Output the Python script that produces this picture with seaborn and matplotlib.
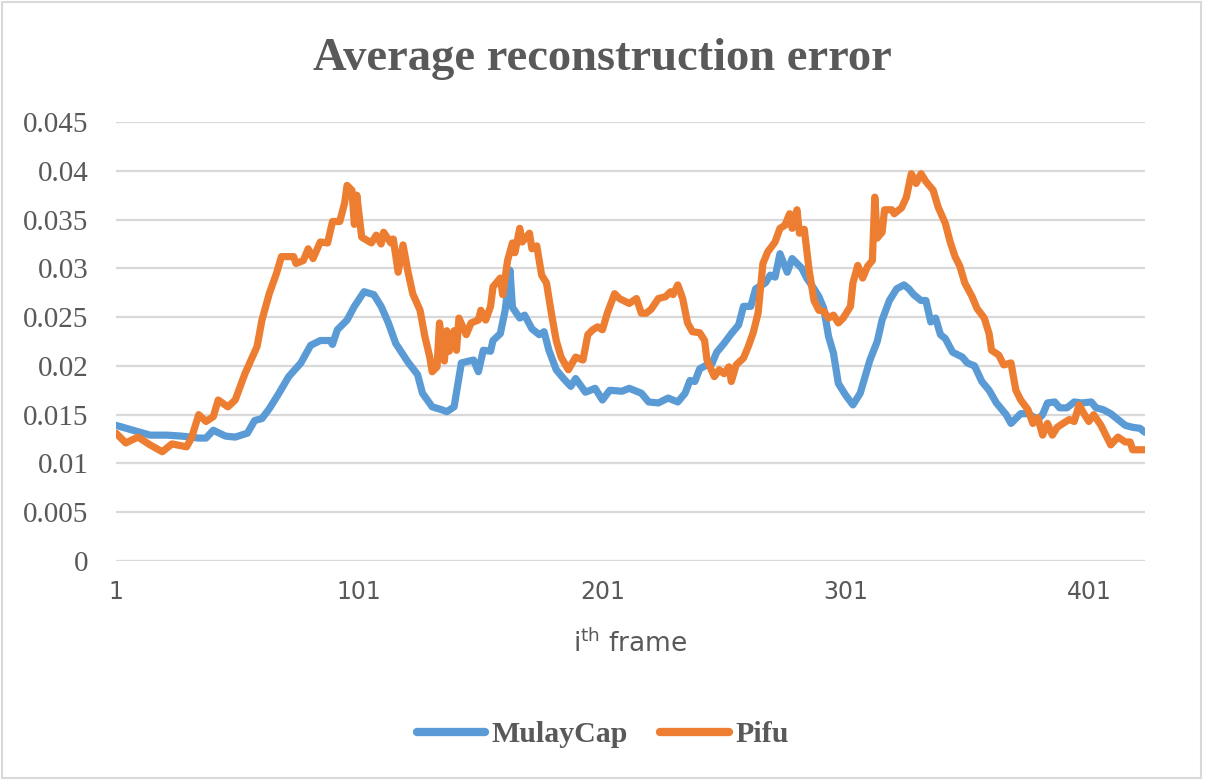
import numpy as np
import pandas as pd
import matplotlib
matplotlib.use('Agg')
import matplotlib.pyplot as plt
import seaborn as sns
from matplotlib.lines import Line2D
from matplotlib.patches import Rectangle

# values (frame index, average reconstruction error)
mulaycap_frames = [1, 8, 15, 22, 28, 35, 38, 41, 46, 50, 55, 58, 61, 64, 68, 72, 77, 81, 85, 89,
                   90, 92, 96, 99, 103, 107, 110, 113, 116, 121, 125, 127, 131, 135, 137, 140, 143,
                   148, 150, 152, 155, 156, 159, 161, 163, 164, 167, 169, 172, 175, 177, 179, 182,
                   185, 188, 190, 194, 198, 201, 204, 209, 212, 217, 220, 224, 228, 232, 235, 237,
                   239, 241, 244, 246, 248, 251, 254, 257, 259, 262, 264, 268, 270, 272, 274, 277,
                   279, 281, 283, 285, 288, 290, 292, 294, 296, 298, 301, 304, 307, 309, 311, 314,
                   316, 319, 322, 325, 327, 329, 332, 334, 336, 338, 340, 342, 345, 349, 351, 354,
                   357, 360, 363, 367, 369, 373, 376, 380, 382, 384, 387, 389, 392, 395, 398, 402,
                   404, 407, 410, 413, 416, 419, 422, 424]
mulaycap_err = [0.0139, 0.0134, 0.0129, 0.0129, 0.0128, 0.0126, 0.0126, 0.0134, 0.0128, 0.0127,
                0.0131, 0.0144, 0.0146, 0.0156, 0.0172, 0.0189, 0.0203, 0.0221, 0.0226, 0.0226,
                0.0222, 0.0237, 0.0247, 0.0261, 0.0276, 0.0273, 0.0261, 0.0244, 0.0223, 0.0204,
                0.0191, 0.0172, 0.0158, 0.0155, 0.0153, 0.0158, 0.0203, 0.0206, 0.0194, 0.0216,
                0.0215, 0.0226, 0.0233, 0.0257, 0.0298, 0.0260, 0.0249, 0.0252, 0.0238, 0.0232,
                0.0235, 0.0216, 0.0196, 0.0187, 0.0179, 0.0187, 0.0173, 0.0177, 0.0165, 0.0175,
                0.0174, 0.0177, 0.0172, 0.0163, 0.0162, 0.0167, 0.0163, 0.0172, 0.0185, 0.0184,
                0.0197, 0.0201, 0.0202, 0.0214, 0.0223, 0.0233, 0.0242, 0.0261, 0.0261, 0.0279,
                0.0285, 0.0293, 0.0291, 0.0315, 0.0296, 0.0310, 0.0305, 0.0300, 0.0290, 0.0279,
                0.0271, 0.0259, 0.0230, 0.0213, 0.0182, 0.0170, 0.0160, 0.0172, 0.0189, 0.0206,
                0.0225, 0.0247, 0.0267, 0.0279, 0.0283, 0.0279, 0.0273, 0.0267, 0.0267, 0.0245,
                0.0249, 0.0232, 0.0228, 0.0214, 0.0209, 0.0203, 0.0200, 0.0184, 0.0175, 0.0162,
                0.0150, 0.0141, 0.0151, 0.0151, 0.0145, 0.0150, 0.0162, 0.0163, 0.0157, 0.0157,
                0.0163, 0.0162, 0.0163, 0.0157, 0.0155, 0.0151, 0.0145, 0.0139, 0.0137, 0.0136,
                0.0132]

pifu_frames = [1, 5, 10, 15, 20, 24, 30, 32, 35, 38, 41, 43, 47, 50, 54, 59, 61, 64, 67, 69, 74,
               75, 78, 80, 82, 85, 88, 90, 93, 95, 96, 98, 99, 100, 102, 106, 108, 110, 111, 114,
               115, 117, 119, 121, 123, 126, 128, 130, 131, 133, 134, 136, 137, 138, 140, 141,
               142, 145, 147, 150, 151, 153, 155, 156, 159, 160, 162, 164, 165, 167, 168, 171,
               172, 174, 176, 178, 180, 182, 184, 187, 190, 193, 195, 197, 199, 201, 203, 206,
               208, 212, 215, 217, 219, 221, 224, 227, 229, 230, 232, 234, 236, 238, 241, 243,
               244, 247, 249, 251, 253, 254, 256, 259, 261, 263, 265, 267, 269, 272, 274, 276,
               278, 279, 281, 282, 284, 286, 288, 290, 292, 294, 296, 298, 300, 303, 304, 306,
               308, 310, 312, 313, 314, 316, 317, 320, 321, 324, 326, 328, 330, 332, 334, 337,
               339, 342, 344, 346, 348, 350, 353, 355, 358, 360, 361, 364, 366, 369, 371, 373,
               376, 378, 380, 382, 384, 386, 388, 391, 393, 395, 397, 399, 401, 403, 406, 408,
               410, 413, 416, 418, 419, 424]
pifu_err = [0.0131, 0.0121, 0.0127, 0.0119, 0.0112, 0.0120, 0.0117, 0.0126, 0.0150, 0.0143,
            0.0148, 0.0165, 0.0158, 0.0165, 0.0192, 0.0220, 0.0247, 0.0274, 0.0295, 0.0312,
            0.0312, 0.0305, 0.0308, 0.0320, 0.0310, 0.0327, 0.0326, 0.0348, 0.0348, 0.0367,
            0.0385, 0.0380, 0.0345, 0.0375, 0.0332, 0.0326, 0.0334, 0.0325, 0.0337, 0.0326,
            0.0330, 0.0296, 0.0324, 0.0297, 0.0274, 0.0257, 0.0230, 0.0209, 0.0194, 0.0199,
            0.0244, 0.0205, 0.0236, 0.0215, 0.0236, 0.0216, 0.0249, 0.0232, 0.0244, 0.0247,
            0.0257, 0.0247, 0.0261, 0.0281, 0.0290, 0.0273, 0.0308, 0.0326, 0.0316, 0.0341,
            0.0327, 0.0336, 0.0320, 0.0323, 0.0293, 0.0285, 0.0254, 0.0226, 0.0209, 0.0196,
            0.0209, 0.0206, 0.0232, 0.0237, 0.0240, 0.0237, 0.0254, 0.0274, 0.0269, 0.0264,
            0.0269, 0.0254, 0.0254, 0.0258, 0.0269, 0.0271, 0.0276, 0.0273, 0.0283, 0.0269,
            0.0244, 0.0235, 0.0234, 0.0226, 0.0206, 0.0189, 0.0196, 0.0192, 0.0199, 0.0184,
            0.0201, 0.0208, 0.0220, 0.0234, 0.0254, 0.0305, 0.0317, 0.0327, 0.0341, 0.0344,
            0.0356, 0.0341, 0.0360, 0.0336, 0.0340, 0.0298, 0.0267, 0.0257, 0.0256, 0.0249,
            0.0252, 0.0244, 0.0249, 0.0261, 0.0285, 0.0303, 0.0290, 0.0302, 0.0308, 0.0373,
            0.0331, 0.0337, 0.0360, 0.0360, 0.0356, 0.0362, 0.0373, 0.0397, 0.0387, 0.0397,
            0.0389, 0.0380, 0.0363, 0.0346, 0.0327, 0.0312, 0.0302, 0.0285, 0.0271, 0.0259,
            0.0249, 0.0233, 0.0216, 0.0211, 0.0201, 0.0203, 0.0175, 0.0165, 0.0155, 0.0141,
            0.0147, 0.0129, 0.0141, 0.0129, 0.0137, 0.0142, 0.0145, 0.0143, 0.0160, 0.0151,
            0.0143, 0.0150, 0.0139, 0.0129, 0.0119, 0.0127, 0.0122, 0.0122, 0.0114, 0.0114]

series_names = ['MulayCap', 'Pifu']
series_colors = ['#5B9BD5', '#ED7D31']
y_ticks = [0, 0.005, 0.01, 0.015, 0.02, 0.025, 0.03, 0.035, 0.04, 0.045]
y_tick_labels = ['0', '0.005', '0.01', '0.015', '0.02', '0.025', '0.03', '0.035', '0.04', '0.045']
x_ticks = [1, 101, 201, 301, 401]

df = pd.concat([
    pd.DataFrame({'frame': mulaycap_frames, 'error': mulaycap_err, 'method': 'MulayCap'}),
    pd.DataFrame({'frame': pifu_frames, 'error': pifu_err, 'method': 'Pifu'}),
], ignore_index=True)

sns.set_style('white')
text_col = '#595959'
grid_col = '#D9D9D9'

fig = plt.figure(figsize=(12.05, 7.8), dpi=100)
ax = fig.add_axes([0.0963, 0.2808, 0.8537, 0.5628])

sns.lineplot(data=df, x='frame', y='error', hue='method', palette=series_colors,
             hue_order=series_names, estimator=None, linewidth=5.2, legend=False, ax=ax)
for ln in ax.lines:
    ln.set_solid_capstyle('round')
    ln.set_solid_joinstyle('round')
    ln.set_zorder(3)

ax.set_xlim(1, 424)
ax.set_ylim(0, 0.045)
ax.set_yticks(y_ticks)
ax.set_yticklabels(y_tick_labels, family='Liberation Serif', fontsize=21, color=text_col)
ax.set_xticks(x_ticks)
ax.set_xticklabels([str(t) for t in x_ticks], family='DejaVu Sans', fontsize=17, color=text_col)
ax.tick_params(axis='both', length=0)
ax.tick_params(axis='y', pad=20)
ax.tick_params(axis='x', pad=14)
ax.yaxis.grid(True, color=grid_col, linewidth=1.6, zorder=0)
ax.set_axisbelow(True)
for s in ax.spines.values():
    s.set_visible(False)
ax.set_ylabel('')
ax.set_xlabel(r'i$^{\mathregular{th}}$ frame', family='DejaVu Sans', fontsize=19,
              color=text_col, labelpad=18)

fig.text(0.5, 0.924, 'Average reconstruction error', ha='center', va='center',
         family='Liberation Serif', fontweight='bold', fontsize=33.5, color=text_col)

handles = [Line2D([0], [0], color=c, linewidth=6, solid_capstyle='round') for c in series_colors]
leg = fig.legend(handles, series_names, loc='center', bbox_to_anchor=(0.5, 0.058), ncol=2,
                 frameon=False, handlelength=2.3, handletextpad=0.2, columnspacing=1.1,
                 prop={'family': 'Liberation Serif', 'weight': 'bold', 'size': 21.5})
for t in leg.get_texts():
    t.set_color(text_col)

fig.patches.append(Rectangle((0.002, 0.002), 0.995, 0.995, transform=fig.transFigure,
                             fill=False, edgecolor=grid_col, linewidth=1.5))

fig.savefig('out.png', dpi=100, facecolor='white')
